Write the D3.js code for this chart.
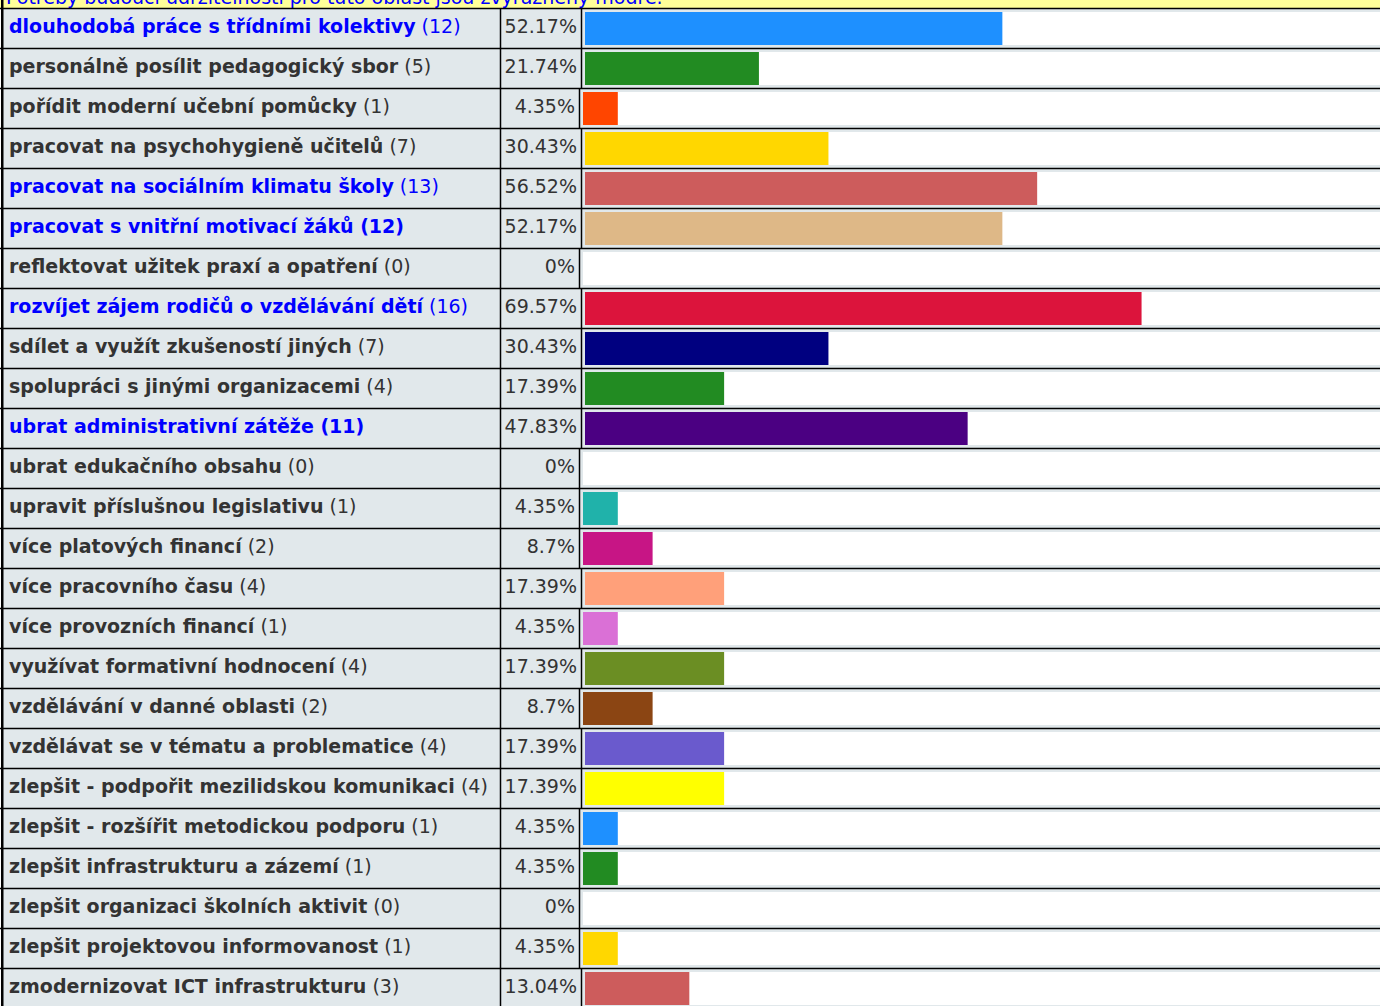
<!DOCTYPE html>
<html>
<head>
<meta charset="utf-8">
<script src="https://cdn.jsdelivr.net/npm/d3@7"></script>
<style>
  html, body { margin: 0; padding: 0; background: #fff; overflow: hidden; }
  svg { display: block; font-family: "DejaVu Sans", Verdana, sans-serif; }
</style>
</head>
<body>
<svg id="chart" width="1380" height="1006"></svg>
<script>
// Survey answers: what is needed for the future sustainability of this area
const categories = [
  "dlouhodobá práce s třídními kolektivy",
  "personálně posílit pedagogický sbor",
  "pořídit moderní učební pomůcky",
  "pracovat na psychohygieně učitelů",
  "pracovat na sociálním klimatu školy",
  "pracovat s vnitřní motivací žáků",
  "reflektovat užitek praxí a opatření",
  "rozvíjet zájem rodičů o vzdělávání dětí",
  "sdílet a využít zkušeností jiných",
  "spolupráci s jinými organizacemi",
  "ubrat administrativní zátěže",
  "ubrat edukačního obsahu",
  "upravit příslušnou legislativu",
  "více platových financí",
  "více pracovního času",
  "více provozních financí",
  "využívat formativní hodnocení",
  "vzdělávání v danné oblasti",
  "vzdělávat se v tématu a problematice",
  "zlepšit - podpořit mezilidskou komunikaci",
  "zlepšit - rozšířit metodickou podporu",
  "zlepšit infrastrukturu a zázemí",
  "zlepšit organizaci školních aktivit",
  "zlepšit projektovou informovanost",
  "zmodernizovat ICT infrastrukturu"
];
const counts = [12, 5, 1, 7, 13, 12, 0, 16, 7, 4, 11, 0, 1, 2, 4, 1, 4, 2, 4, 4, 1, 1, 0, 1, 3];
const percents = [52.17, 21.74, 4.35, 30.43, 56.52, 52.17, 0, 69.57, 30.43, 17.39, 47.83, 0, 4.35, 8.7,
                  17.39, 4.35, 17.39, 8.7, 17.39, 17.39, 4.35, 4.35, 0, 4.35, 13.04];
// highlighted (blue) answers
const highlighted = [true, false, false, false, true, true, false, true, false, false, true, false, false,
                     false, false, false, false, false, false, false, false, false, false, false, false];
// answers whose count is also set in bold
const boldCount = [false, false, false, false, false, true, false, false, false, false, true, false, false,
                   false, false, false, false, false, false, false, false, false, false, false, false];
const barColors = ["#1E90FF", "#228B22", "#FF4500", "#FFD700", "#CD5C5C", "#DEB887", "#A9A9A9", "#DC143C",
                   "#000080", "#228B22", "#4B0082", "#A9A9A9", "#20B2AA", "#C71585", "#FFA07A", "#DA70D6",
                   "#6B8E23", "#8B4513", "#6A5ACD", "#FFFF00", "#1E90FF", "#228B22", "#FF4500", "#FFD700",
                   "#CD5C5C"];
const noteText = "Potřeby budoucí udržitelnosti pro tuto oblast jsou zvýrazněny modře.";

const W = 1380, H = 1006;
const rowH = 40, top0 = 8;
const cellBg = "#e1e8eb";
const fontSize = 19;

const svg = d3.select("#chart");
const rows = categories.map((c, i) => ({ name: c, count: counts[i], pct: percents[i], hi: highlighted[i], bc: boldCount[i], color: barColors[i], i }));

// row band scale
const y = d3.scaleBand().domain(d3.range(rows.length)).range([top0, top0 + rowH * rows.length]);
// bar length scale: percent -> pixels
const x = d3.scaleLinear().domain([0, 100]).range([0, 800]);

// note strip on top
svg.append("rect").attr("x", 0).attr("y", 0).attr("width", W).attr("height", top0).attr("fill", "#ffff99");
svg.append("text").attr("x", 6).attr("y", 4).attr("fill", "#0000ff").attr("font-size", fontSize).text(noteText);

const g = svg.selectAll("g.row").data(rows).join("g").attr("class", "row")
  .attr("transform", d => `translate(0,${y(d.i)})`);

// label cell
g.append("rect").attr("x", 2).attr("y", 0).attr("width", 498).attr("height", rowH).attr("fill", cellBg);

const lab = g.append("text").attr("x", 9).attr("y", 24.5).attr("font-size", fontSize)
  .attr("fill", d => d.hi ? "#0000ff" : "#333");
lab.append("tspan").attr("font-weight", "bold").text(d => d.name);
lab.append("tspan").attr("font-weight", d => d.bc ? "bold" : "normal").text(d => ` (${d.count})`);

// percent cell
g.append("text").attr("class", "pct").attr("font-size", fontSize).attr("fill", "#333")
  .attr("text-anchor", "end").attr("y", 24.5).text(d => d.pct + "%");

g.each(function (d) {
  const row = d3.select(this);
  const t = row.select("text.pct");
  const tw = t.node().getComputedTextLength();
  const sepX = 501 + Math.max(78, Math.round(tw) + 8);
  t.attr("x", sepX - 4);
  row.insert("rect", "text").attr("x", 501).attr("y", 0).attr("width", sepX - 501).attr("height", rowH).attr("fill", cellBg);
  // bar cell: grey frame, white inside
  row.append("rect").attr("x", sepX).attr("y", 0).attr("width", W - sepX).attr("height", rowH).attr("fill", cellBg);
  row.append("rect").attr("x", sepX + 4).attr("y", 4).attr("width", W - sepX).attr("height", 33).attr("fill", "#fff");
  if (d.pct > 0) {
    row.append("rect").attr("x", sepX + 4).attr("y", 4).attr("width", x(d.pct)).attr("height", 33).attr("fill", d.color);
  }
  row.append("line").attr("x1", sepX + 0.5).attr("x2", sepX + 0.5).attr("y1", 0).attr("y2", rowH).attr("stroke", "#000").attr("stroke-width", 1.5);
});

// vertical rule between label and percent
g.append("line").attr("x1", 500.5).attr("x2", 500.5).attr("y1", 0).attr("y2", rowH).attr("stroke", "#000").attr("stroke-width", 1.5);

// horizontal rules
svg.selectAll("line.h").data(d3.range(rows.length + 1)).join("line").attr("class", "h")
  .attr("x1", 0).attr("x2", W).attr("y1", i => top0 + i * rowH + 0.5).attr("y2", i => top0 + i * rowH + 0.5)
  .attr("stroke", "#000").attr("stroke-width", 1.6);

// left border
svg.append("rect").attr("x", 1).attr("y", 0).attr("width", 2.5).attr("height", H).attr("fill", "#000");
</script>
</body>
</html>
